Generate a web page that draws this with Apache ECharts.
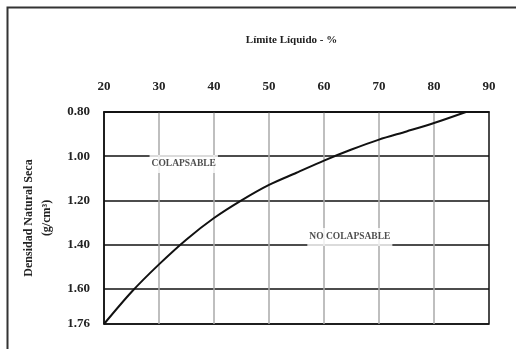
<!DOCTYPE html>
<html>
<head>
<meta charset="utf-8">
<script src="https://cdn.jsdelivr.net/npm/echarts@6/dist/echarts.min.js"></script>
<style>html,body{margin:0;padding:0;background:#fff}#c{width:516px;height:349px}</style>
</head>
<body>
<div id="c"></div>
<script>
var limiteLiquido = [20, 25, 30, 35, 40, 45, 50, 55, 60, 65, 70, 75, 80, 85.8];
var densidad = [1.76, 1.615, 1.49, 1.377, 1.28, 1.20, 1.13, 1.075, 1.02, 0.97, 0.925, 0.888, 0.85, 0.80];
var xTicks = [20, 30, 40, 50, 60, 70, 80, 90];
var yTicks = [0.80, 1.00, 1.20, 1.40, 1.60, 1.76];
var zoneLabels = ['COLAPSABLE', 'NO COLAPSABLE'];
var zoneX = [34.5, 64.7];
var zoneY = [1.035, 1.366];

var serif = '"Liberation Serif", "DejaVu Serif", serif';
var chart = echarts.init(document.getElementById('c'), null, {renderer: 'canvas'});
chart.setOption({
  animation: false,
  backgroundColor: '#fff',
  graphic: [{
    type: 'rect', z: 100, silent: true,
    shape: {x: 7.5, y: 7.5, width: 530, height: 380},
    style: {fill: 'none', stroke: '#333', lineWidth: 2}
  }],
  grid: {left: 104, right: 27, top: 112, bottom: 25, show: true, borderColor: '#111', borderWidth: 1.5, backgroundColor: 'transparent'},
  xAxis: {
    type: 'value', position: 'top', min: xTicks[0], max: xTicks[xTicks.length - 1], interval: 10,
    name: 'Límite Líquido - %', nameLocation: 'middle', nameGap: 66,
    nameTextStyle: {fontFamily: serif, fontWeight: 'bold', fontSize: 11, color: '#222', padding: [0, 10, 0, 0]},
    axisLine: {show: true, lineStyle: {color: '#111', width: 1.5}},
    axisTick: {show: false},
    axisLabel: {margin: 19, fontFamily: serif, fontWeight: 'bold', fontSize: 13, color: '#222',
      formatter: function (v) { return xTicks.indexOf(v) >= 0 ? String(v) : ''; }},
    splitLine: {show: true, showMinLine: false, showMaxLine: false, lineStyle: {color: '#aaa', width: 1.5}}
  },
  yAxis: {
    type: 'value', inverse: true, min: 0.8, max: 1.76, interval: 0.2,
    name: 'Densidad Natural Seca\n(g/cm³)', nameLocation: 'middle', nameGap: 28, nameRotate: 90,
    nameTextStyle: {fontFamily: serif, fontWeight: 'bold', fontSize: 12, color: '#222', lineHeight: 18},
    axisLine: {show: true, lineStyle: {color: '#111', width: 1.5}},
    axisTick: {show: false},
    axisLabel: {margin: 14, fontFamily: serif, fontWeight: 'bold', fontSize: 13, color: '#222',
      formatter: function (v) {
        for (var i = 0; i < yTicks.length; i++) { if (Math.abs(yTicks[i] - v) < 1e-6) return yTicks[i].toFixed(2); }
        return '';
      }},
    splitLine: {show: true, lineStyle: {color: '#111', width: 1.5}}
  },
  series: [{
    type: 'line', smooth: 0.3, symbol: 'none', z: 5,
    data: limiteLiquido.map(function (x, i) { return [x, densidad[i]]; }),
    lineStyle: {color: '#111', width: 2}
  }, {
    type: 'scatter', symbolSize: 0, z: 6,
    data: zoneLabels.map(function (t, i) { return {value: [zoneX[i], zoneY[i]], name: t}; }),
    label: {show: true, position: 'inside', formatter: '{b}', fontFamily: serif, fontWeight: 'bold', fontSize: 9.5,
      color: '#222', backgroundColor: '#fff', padding: [4, 2, 4, 2]}
  }]
});
</script>
</body>
</html>
